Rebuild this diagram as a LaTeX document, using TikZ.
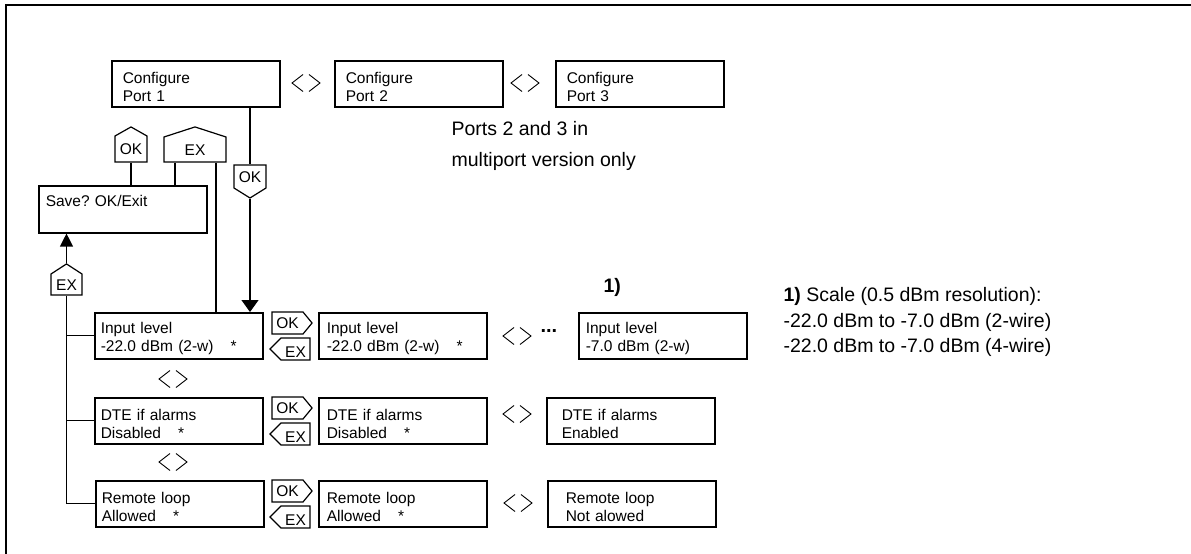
\documentclass[tikz,border=0pt]{standalone}
\usepackage{fontspec}
\setmainfont{Liberation Sans}
\usetikzlibrary{arrows.meta,shapes.symbols}

\newcommand{\boxfont}{\fontsize{15.5}{18}\selectfont}
\newcommand{\notefont}{\fontsize{19.5}{25.5}\selectfont}

\tikzset{
  box/.style={draw, line width=1.5pt, anchor=north west, minimum width=168pt,
    minimum height=46pt, align=left, inner xsep=7pt, text width=154pt,
    font=\boxfont, execute at begin node={\rule{0pt}{17pt}}},
  tag/.style={draw, line width=1.2pt, shape=signal, signal from=nowhere,
    inner sep=0pt, align=center, font=\boxfont},
  note/.style={anchor=north west, inner sep=0pt, align=left, font=\notefont}
}

\begin{document}
\begin{tikzpicture}[x=1pt, y=-1pt, line width=1.2pt]

\useasboundingbox (0,0) rectangle (1191,554);
\draw[line width=1.6pt] (6,554) -- (6,5) -- (1191,5);

% port menu
\node[box, inner xsep=11pt, text width=146pt] (port1) at (111,60) {Configure\\Port 1};
\node[box, inner xsep=11pt, text width=146pt] (port2) at (334,60) {Configure\\Port 2};
\node[box, inner xsep=11pt, text width=146pt] (port3) at (555,60) {Configure\\Port 3};
\node[note, font=\fontsize{19.5}{31}\selectfont] (portsnote) at (451,121) {Ports 2 and 3 in\\multiport version only};

\node[box] (save) at (38,185) {Save?\ OK/Exit\\\strut};

\node[tag, signal to=north, signal pointer angle=121, text width=32pt,
  text height=18.5pt, text depth=7.5pt] (okup) at (131,149) {OK};
\node[tag, signal to=north, signal pointer angle=144, text width=62pt,
  text height=18pt, text depth=7pt] (exup) at (195,149.5) {EX};
\node[tag, signal to=south, signal pointer angle=116, text width=32pt,
  text height=17pt, text depth=6pt] (okdn) at (250,176.5) {OK};
\node[tag, signal to=north, signal pointer angle=114, text width=31pt,
  text height=16pt, text depth=5pt] (exlow) at (66.5,284.5) {EX};

% parameter rows
\node[box, inner xsep=6pt, text width=156pt] (in1) at (94,312) {Input level\\-22.0 dBm (2-w)\hspace{17pt}*};
\node[box, inner xsep=8pt, text width=152pt] (in2) at (318,312) {Input level\\-22.0 dBm (2-w)\hspace{17pt}*};
\node[box] (in3) at (578,312) {Input level\\-7.0 dBm (2-w)};

\node[box, inner xsep=6pt, text width=156pt] (dte1) at (94,397) {DTE if alarms\\Disabled\hspace{17pt}*};
\node[box, inner xsep=8pt, text width=152pt] (dte2) at (318,397) {DTE if alarms\\Disabled\hspace{17pt}*};
\node[box, inner xsep=15pt, text width=138pt] (dte3) at (546,397) {DTE if alarms\\Enabled};

\node[box, inner xsep=6pt, text width=156pt] (rl1) at (95,480) {Remote loop\\Allowed\hspace{17pt}*};
\node[box, inner xsep=8pt, text width=152pt] (rl2) at (318,480) {Remote loop\\Allowed\hspace{17pt}*};
\node[box, inner xsep=18pt, text width=132pt] (rl3) at (547,480) {Remote loop\\Not alowed};

\foreach \r/\y in {in/312, dte/397, rl/480} {
  \node[tag, signal to=east, signal pointer angle=101, text width=31pt,
    text height=16.5pt, text depth=5.5pt] (ok\r) at (287.5,\y+11) {OK};
  \node[tag, signal to=west, signal pointer angle=90, text width=29pt,
    text height=19pt, text depth=3pt] (ex\r) at (295.5,\y+37) {EX};
}

\node[anchor=west, inner sep=0pt, font=\fontsize{20}{20}\selectfont\bfseries] (dots) at (540,331) {...};
\node[note, font=\notefont\bfseries] (fnmark) at (603,278) {1)};
\node[note] (fnote) at (783,287) {\textbf{1)} Scale (0.5 dBm resolution):\\-22.0 dBm to -7.0 dBm (2-wire)\\-22.0 dBm to -7.0 dBm (4-wire)};

% connectors
\draw (okdn.north |- port1.south) -- (okdn.north);
\draw[-{Triangle[width=17pt,length=12pt]}] (okdn.south) -- (okdn.south |- in1.north);
\draw (okup.south) -- (okup.south |- save.north);
\draw ([xshift=-20pt]exup.south) -- ([xshift=-20pt]exup.south |- save.north);
\draw ([xshift=21pt]exup.south) -- ([xshift=21pt]exup.south |- in1.north);
\draw[-{Triangle[width=13pt,length=13pt]}] (exlow.north) -- (exlow.north |- save.south);
\draw (exlow.south) |- (rl1.west);
\draw (exlow.south |- in1.west) -- (in1.west);
\draw (exlow.south |- dte1.west) -- (dte1.west);

% scroll marks
\foreach \cx/\cy in {306/83, 525/83, 173/379, 173/462, 517/336, 517/414, 518/503}
  \draw[line width=0.9pt] (\cx-3,\cy-8.5) -- (\cx-14,\cy) -- (\cx-3,\cy+8.5)
                          (\cx+3,\cy-8.5) -- (\cx+14,\cy) -- (\cx+3,\cy+8.5);

\end{tikzpicture}
\end{document}
